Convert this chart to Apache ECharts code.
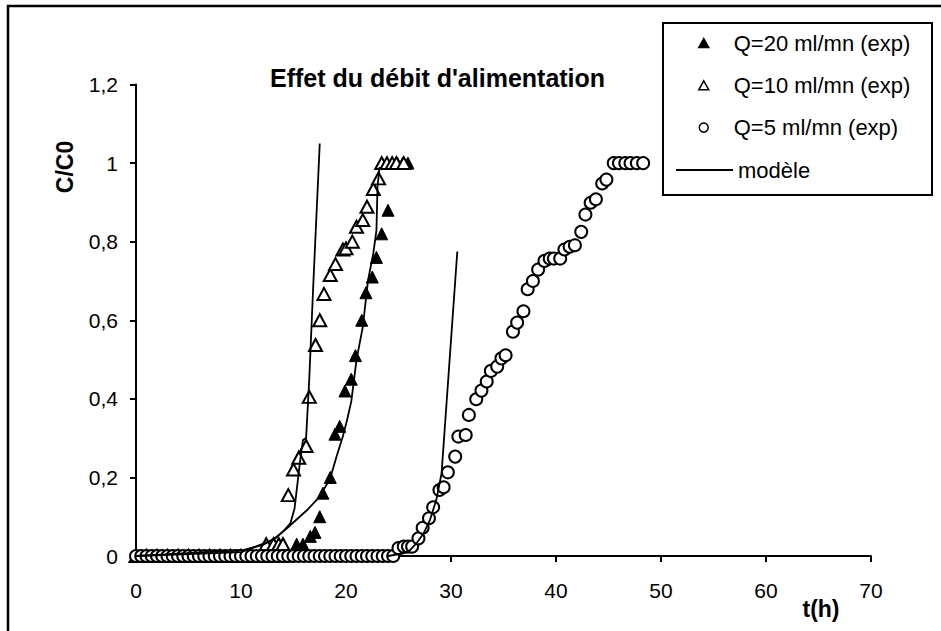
<!DOCTYPE html>
<html>
<head>
<meta charset="utf-8">
<script src="https://cdn.jsdelivr.net/npm/echarts@6/dist/echarts.min.js"></script>
<style>
  html, body { margin: 0; padding: 0; background: #fff; }
  #chart { width: 941px; height: 631px; }
</style>
</head>
<body>
<div id="chart"></div>
<script>
// t(h), C/C0
var q20 = [
  [0, 0], [1, 0], [2, 0], [3, 0], [4, 0], [5, 0], [6, 0], [7, 0], [8, 0], [9, 0],
  [10, 0], [11, 0], [12, 0], [12.5, 0], [13, 0], [13.5, 0], [14, 0], [14.5, 0],
  [15.3, 0.03], [15.9, 0.03], [16.6, 0.05], [17.05, 0.06], [17.5, 0.1], [17.8, 0.16],
  [18.5, 0.2], [18.95, 0.31], [19.4, 0.33], [19.9, 0.42], [20.5, 0.45], [20.9, 0.51],
  [21.5, 0.6], [21.9, 0.67], [22.5, 0.71], [22.9, 0.76], [23.4, 0.82], [24.0, 0.88],
  [24.4, 1.0], [24.9, 1.0], [25.4, 1.0], [25.9, 1.0]
];
var q10 = [
  [0, 0], [1, 0], [2, 0], [3, 0], [4, 0], [5, 0], [6, 0], [7, 0], [8, 0], [9, 0],
  [10, 0], [11, 0], [12, 0],
  [12.4, 0.03], [13.1, 0.03], [13.6, 0.03], [14.0, 0.03], [14.5, 0.155], [15.0, 0.22],
  [15.5, 0.25], [16.2, 0.28], [16.5, 0.405], [17.1, 0.537], [17.5, 0.6], [17.9, 0.667],
  [18.5, 0.715], [19.0, 0.743], [19.7, 0.78], [20.0, 0.783], [20.6, 0.8], [21.0, 0.838],
  [21.6, 0.855], [22.0, 0.889], [22.6, 0.934], [23.1, 0.961],
  [23.4, 1.0], [23.9, 1.0], [24.4, 1.0], [24.8, 1.0], [25.5, 1.0]
];
var q5 = [
  [0, 0], [0.5, 0], [1, 0], [1.5, 0], [2, 0], [2.5, 0], [3, 0], [3.5, 0], [4, 0], [4.5, 0],
  [5, 0], [5.5, 0], [6, 0], [6.5, 0], [7, 0], [7.5, 0], [8, 0], [8.5, 0], [9, 0], [9.5, 0],
  [10, 0], [10.5, 0], [11, 0], [11.5, 0], [12, 0], [12.5, 0], [13, 0], [13.5, 0], [14, 0],
  [14.5, 0], [15, 0], [15.5, 0], [16, 0], [16.5, 0], [17, 0], [17.5, 0], [18, 0], [18.5, 0],
  [19, 0], [19.5, 0], [20, 0], [20.5, 0], [21, 0], [21.5, 0], [22, 0], [22.5, 0], [23, 0],
  [23.5, 0], [24, 0], [24.5, 0],
  [25.0, 0.02], [25.5, 0.024], [25.9, 0.024], [26.3, 0.024], [26.9, 0.045], [27.3, 0.072],
  [27.9, 0.096], [28.3, 0.124], [28.9, 0.168], [29.3, 0.175], [29.7, 0.213], [30.4, 0.253],
  [30.7, 0.304], [31.4, 0.308], [31.7, 0.359], [32.4, 0.399], [32.9, 0.421], [33.4, 0.444],
  [33.8, 0.471], [34.4, 0.482], [34.8, 0.503], [35.2, 0.511], [35.9, 0.571], [36.3, 0.594],
  [36.9, 0.623], [37.3, 0.679], [37.8, 0.7], [38.3, 0.729], [38.9, 0.751], [39.4, 0.757],
  [39.8, 0.757], [40.4, 0.757], [40.8, 0.78], [41.3, 0.787], [41.8, 0.791], [42.4, 0.825],
  [42.8, 0.869], [43.3, 0.899], [43.8, 0.908], [44.4, 0.948], [44.8, 0.958],
  [45.5, 1.0], [46.0, 1.0], [46.6, 1.0], [47.1, 1.0], [47.7, 1.0], [48.3, 1.0]
];
// model curves
var model20 = [
  [0, 0], [10.2, 0.015], [12.1, 0.028], [13.4, 0.049], [14.35, 0.07], [16.3, 0.117],
  [17.5, 0.151], [18.5, 0.198], [19.1, 0.253], [19.7, 0.304], [20.1, 0.346], [20.5, 0.393],
  [21.0, 0.499], [21.6, 0.583], [22.1, 0.702], [22.6, 0.77], [22.9, 0.829], [23.0, 0.94],
  [23.2, 0.99]
];
var model10 = [
  [0, 0], [10.0, 0.01], [11.5, 0.025], [13.1, 0.041], [14.0, 0.062], [14.7, 0.083],
  [15.1, 0.121], [15.6, 0.236], [15.9, 0.295], [16.2, 0.3], [16.5, 0.45], [16.9, 0.7],
  [17.5, 1.05]
];
var model5 = [
  [24, 0], [25.5, 0.007], [26.1, 0.015], [26.7, 0.032], [27.4, 0.058], [28.0, 0.092],
  [28.6, 0.143], [29.1, 0.21], [30.6, 0.775]
];
var legendNames = ['Q=20 ml/mn (exp)', 'Q=10 ml/mn (exp)', 'Q=5 ml/mn (exp)', 'mod\u00e8le'];
var xTicks = { min: 0, max: 70, step: 10 };
var yTicks = { min: 0, max: 1.2, step: 0.2 };

var FONT = '"Liberation Sans", Arial, sans-serif';

function comma(v) {
  return String(Number(v.toFixed(1))).replace('.', ',');
}

function modelSeries(data) {
  return {
    name: legendNames[3],
    type: 'line',
    data: data,
    symbol: 'none',
    z: 5,
    lineStyle: { color: '#000', width: 1.8 },
    itemStyle: { color: '#000' }
  };
}

var legendText = { fontFamily: FONT, fontSize: 22, lineHeight: 24, color: '#000' };

var chart = echarts.init(document.getElementById('chart'), null, { renderer: 'svg' });

chart.setOption({
  animation: false,
  backgroundColor: '#fff',
  textStyle: { fontFamily: FONT, color: '#000' },
  title: {
    text: 'Effet du d\u00e9bit d\'alimentation',
    left: 270,
    top: 65,
    padding: 0,
    textStyle: { fontFamily: FONT, fontSize: 25, fontWeight: 'bold', color: '#000' }
  },
  grid: { left: 136, right: 70, top: 84.5, bottom: 75, containLabel: false },
  legend: [
    {
      // the three measured series: small symbols
      orient: 'vertical',
      left: 698,
      top: 31,
      padding: 0,
      itemWidth: 10,
      itemHeight: 9,
      itemGap: 18.3,
      z: 6,
      data: legendNames.slice(0, 3),
      itemStyle: { borderWidth: 1.5 },
      textStyle: Object.assign({ padding: [0, 0, 0, 20] }, legendText)
    },
    {
      // model line
      orient: 'vertical',
      left: 676,
      top: 158,
      padding: 0,
      itemWidth: 57,
      itemHeight: 2,
      z: 6,
      data: [{ name: legendNames[3], icon: 'rect' }],
      textStyle: legendText
    }
  ],
  xAxis: {
    type: 'value',
    min: xTicks.min,
    max: xTicks.max,
    interval: xTicks.step,
    splitLine: { show: false },
    axisLine: { lineStyle: { color: '#000', width: 2 } },
    axisTick: { inside: false, length: 6, lineStyle: { color: '#000', width: 2 } },
    axisLabel: { margin: 24, fontSize: 21, color: '#000', fontFamily: FONT }
  },
  yAxis: {
    type: 'value',
    min: yTicks.min,
    max: yTicks.max,
    interval: yTicks.step,
    splitLine: { show: false },
    axisLine: { show: true, lineStyle: { color: '#000', width: 2 } },
    axisTick: { show: true, inside: false, length: 6, lineStyle: { color: '#000', width: 2 } },
    axisLabel: { margin: 18, fontSize: 21, color: '#000', fontFamily: FONT, formatter: comma }
  },
  graphic: [
    {
      type: 'rect', z: -1, silent: true,
      shape: { x: 8, y: 6, width: 960, height: 660 },
      style: { fill: 'none', stroke: '#000', lineWidth: 2.5 }
    },
    {
      type: 'rect', z: 1, silent: true,
      shape: { x: 663, y: 23, width: 269, height: 172 },
      style: { fill: '#fff', stroke: '#000', lineWidth: 2 }
    },
    {
      type: 'text', z: 2, x: 65, y: 167, rotation: Math.PI / 2,
      style: { text: 'C/C0', font: 'bold 23px ' + FONT, fill: '#000', align: 'center', verticalAlign: 'middle' }
    },
    {
      type: 'text', z: 2, x: 821, y: 609,
      style: { text: 't(h)', font: 'bold 23px ' + FONT, fill: '#000', align: 'center', verticalAlign: 'middle' }
    }
  ],
  series: [
    {
      name: legendNames[0],
      type: 'scatter',
      data: q20,
      symbol: 'triangle',
      symbolSize: [12, 12],
      z: 2,
      itemStyle: { color: '#000', borderColor: '#000', borderWidth: 1, opacity: 1 }
    },
    {
      name: legendNames[1],
      type: 'scatter',
      data: q10,
      symbol: 'triangle',
      symbolSize: [13, 12],
      z: 3,
      itemStyle: { color: '#fff', borderColor: '#000', borderWidth: 2, opacity: 1 }
    },
    {
      name: legendNames[2],
      type: 'scatter',
      data: q5,
      symbol: 'circle',
      symbolSize: 12,
      z: 4,
      itemStyle: { color: '#fff', borderColor: '#000', borderWidth: 2, opacity: 1 }
    },
    modelSeries(model20),
    modelSeries(model10),
    modelSeries(model5)
  ]
});
</script>
</body>
</html>
